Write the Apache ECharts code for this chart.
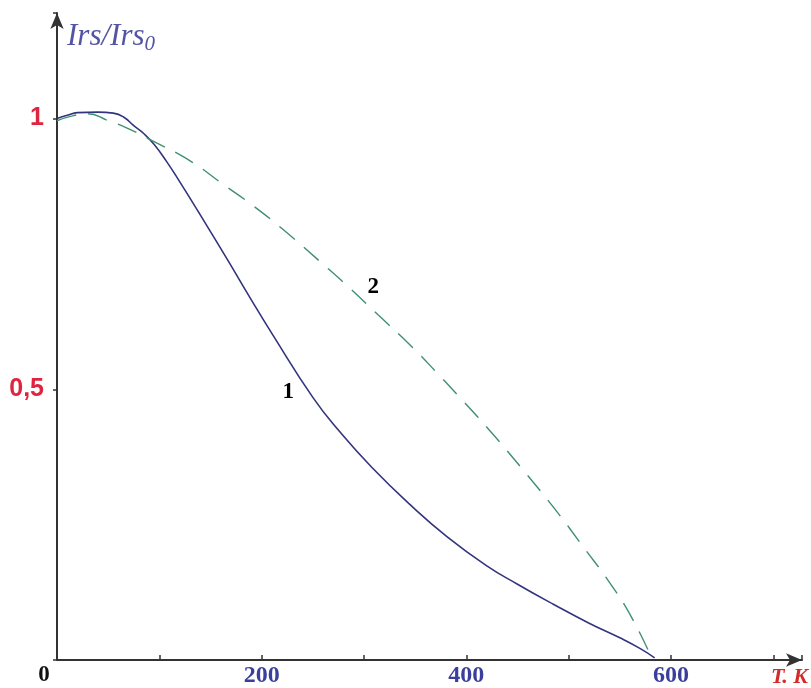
<!DOCTYPE html>
<html>
<head>
<meta charset="utf-8">
<script src="https://cdn.jsdelivr.net/npm/echarts@6/dist/echarts.min.js"></script>
<style>
  html, body { margin: 0; padding: 0; background: #fff; }
  #chart { width: 811px; height: 688px; }
</style>
</head>
<body>
<div id="chart"></div>
<script>
// кривая 1 (сплошная) и кривая 2 (штриховая): [T, Irs/Irs0]
const curve1 = [
  [0, 1.0], [10, 1.006], [20, 1.011], [40, 1.012], [55, 1.01], [65, 1.003],
  [75, 0.987], [85, 0.972], [95, 0.952], [107, 0.921], [120, 0.883],
  [140, 0.822], [167, 0.738], [189, 0.668], [211, 0.6], [250, 0.485],
  [277, 0.42], [308, 0.355], [345, 0.287], [381, 0.228], [420, 0.174],
  [450, 0.14], [485, 0.103], [520, 0.068], [550, 0.041], [570, 0.021], [584, 0.004]
];
const curve2 = [
  [0, 0.996], [15, 1.005], [30, 1.009], [49, 0.997], [68, 0.983],
  [91, 0.961], [130, 0.922], [162, 0.879], [191, 0.84], [221, 0.795],
  [260, 0.731], [286, 0.687], [314, 0.637], [345, 0.582], [371, 0.531],
  [397, 0.478], [426, 0.417], [455, 0.352], [486, 0.28], [515, 0.207],
  [540, 0.143], [562, 0.077], [582, 0.0]
];
// подписи кривых
const curveLabels = [
  { name: '1', value: [226, 0.495] },
  { name: '2', value: [309, 0.688] }
];
const xLabels = { 0: '{o|0}', 200: '200', 400: '400', 600: '600' };
const yLabels = { 0.5: '0,5', 1: '1' };

const chart = echarts.init(document.getElementById('chart'));
chart.setOption({
  animation: false,
  backgroundColor: '#fff',
  grid: { left: 57, right: 9, top: 13, bottom: 26, containLabel: false },
  xAxis: {
    type: 'value',
    min: 0,
    max: 728,
    interval: 100,
    splitLine: { show: false },
    axisLine: {
      lineStyle: { color: '#333', width: 2 },
      symbol: ['none', 'arrow'],
      symbolSize: [10, 16]
    },
    axisTick: { inside: true, length: 5, lineStyle: { color: '#333', width: 1.5 } },
    axisLabel: {
      margin: 4,
      fontFamily: 'Liberation Serif',
      fontWeight: 'bold',
      fontSize: 24,
      color: '#3b3f9c',
      formatter: v => xLabels[v] || '',
      rich: { o: { color: '#111', fontFamily: 'Liberation Serif', fontWeight: 'bold', fontSize: 23, padding: [0, 26, 0, 0] } }
    },
    name: 'T. K',
    nameLocation: 'end',
    nameGap: 0,
    nameTextStyle: {
      color: '#d42a2a',
      fontFamily: 'Liberation Serif',
      fontStyle: 'italic',
      fontWeight: 'bold',
      fontSize: 22,
      align: 'right',
      verticalAlign: 'top',
      padding: [6, -6, 0, 0]
    }
  },
  yAxis: {
    type: 'value',
    min: 0,
    max: 1.195,
    interval: 0.5,
    splitLine: { show: false },
    axisLine: {
      lineStyle: { color: '#333', width: 2 },
      symbol: ['none', 'arrow'],
      symbolSize: [10, 16]
    },
    axisTick: { length: 4, lineStyle: { color: '#333', width: 1.5 } },
    axisLabel: {
      margin: 13,
      fontFamily: 'Liberation Sans',
      fontWeight: 'bold',
      fontSize: 25,
      color: '#e0243f',
      formatter: v => yLabels[v] || ''
    },
    name: '{a|Irs/Irs}{s|0}',
    nameLocation: 'end',
    nameGap: -24,
    nameTextStyle: {
      align: 'left',
      verticalAlign: 'middle',
      padding: [0, 0, 0, 10],
      rich: {
        a: { fontFamily: 'Liberation Serif', fontStyle: 'italic', fontSize: 31, color: '#5355a3' },
        s: { fontFamily: 'Liberation Serif', fontStyle: 'italic', fontSize: 21, color: '#5355a3', verticalAlign: 'bottom', padding: [14, 0, 0, 0] }
      }
    }
  },
  series: [
    {
      name: '1',
      type: 'line',
      data: curve1,
      smooth: true,
      showSymbol: false,
      lineStyle: { color: '#33347e', width: 1.6 }
    },
    {
      name: '2',
      type: 'line',
      data: curve2,
      smooth: true,
      showSymbol: false,
      lineStyle: { color: '#3f8f72', width: 1.4, type: [20, 12] }
    },
    {
      type: 'scatter',
      data: curveLabels,
      symbolSize: 0,
      itemStyle: { opacity: 1 },
      label: {
        show: true,
        formatter: p => p.name,
        position: 'inside',
        fontFamily: 'Liberation Serif',
        fontWeight: 'bold',
        fontSize: 23,
        color: '#000'
      }
    }
  ]
});
</script>
</body>
</html>
